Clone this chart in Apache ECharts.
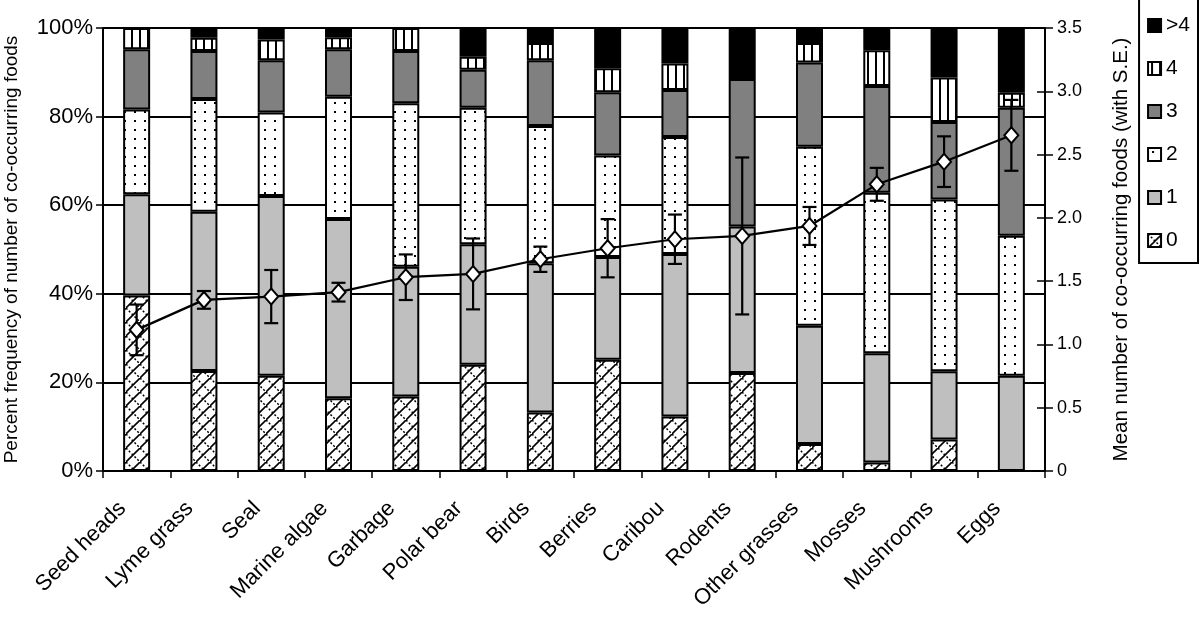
<!DOCTYPE html>
<html>
<head>
<meta charset="utf-8">
<script src="https://cdn.jsdelivr.net/npm/echarts@6/dist/echarts.min.js"></script>
<style>html,body{margin:0;padding:0;background:#fff;}#c{width:1200px;height:626px;}</style>
</head>
<body>
<div id="c"></div>
<script>
// ---- data ----
var categories = ['Seed heads','Lyme grass','Seal','Marine algae','Garbage','Polar bear','Birds','Berries','Caribou','Rodents','Other grasses','Mosses','Mushrooms','Eggs'];
var pct0   = [39.6, 22.6, 21.5, 16.4, 16.8, 24.0, 13.2, 25.1, 12.3, 22.1, 6.1, 1.9, 7.1, 0];
var pct1   = [22.9, 35.9, 40.6, 40.5, 29.3, 27.2, 33.7, 23.2, 36.7, 33.1, 26.7, 24.7, 15.4, 21.5];
var pct2   = [19.1, 25.5, 18.8, 27.6, 36.9, 30.8, 31.0, 22.9, 26.4, 0, 40.4, 36.2, 38.8, 31.6];
var pct3   = [13.6, 10.8, 11.8, 10.7, 11.8, 8.6, 14.8, 14.3, 10.6, 33.3, 19.0, 24.1, 17.5, 28.9];
var pct4   = [4.8, 3.0, 4.7, 2.7, 5.2, 2.9, 3.9, 5.4, 6.0, 0, 4.4, 8.1, 10.0, 3.4];
var pctGt4 = [0, 2.2, 2.6, 2.1, 0, 6.5, 3.4, 9.1, 8.0, 11.5, 3.4, 5.0, 11.2, 14.6];
var meanCo = [1.115, 1.352, 1.378, 1.413, 1.531, 1.557, 1.673, 1.760, 1.831, 1.857, 1.936, 2.265, 2.444, 2.652];
var seCo   = [0.20, 0.07, 0.21, 0.074, 0.18, 0.28, 0.10, 0.23, 0.195, 0.62, 0.15, 0.13, 0.20, 0.28];
var leftTicks  = [0, 20, 40, 60, 80, 100];
var rightTicks = [0, 0.5, 1.0, 1.5, 2.0, 2.5, 3.0, 3.5];

// ---- patterns ----
function tile(w, h, draw) {
  var c = document.createElement('canvas'); c.width = w; c.height = h;
  var g = c.getContext('2d'); g.fillStyle = '#fff'; g.fillRect(0, 0, w, h);
  draw(g); return c;
}
var hatchTile = tile(14, 14, function (g) {
  g.strokeStyle = '#000'; g.lineWidth = 1.6;
  g.beginPath(); g.moveTo(-1, 15); g.lineTo(15, -1); g.stroke();
  g.setLineDash([2, 2]); g.lineWidth = 1.5;
  g.beginPath(); g.moveTo(0, 0); g.lineTo(14, 14); g.stroke();
});
var dotTile = tile(10, 9, function (g) { g.fillStyle = '#000'; g.fillRect(4, 3, 2, 2); });
var stripeTile = tile(8, 8, function (g) { g.fillStyle = '#000'; g.fillRect(3, 0, 2, 8); });

var fills = {
  '0': { image: hatchTile, repeat: 'repeat' },
  '1': '#bfbfbf',
  '2': { image: dotTile, repeat: 'repeat' },
  '3': '#808080',
  '4': { image: stripeTile, repeat: 'repeat' },
  '>4': '#000'
};
var segs = [['0', pct0], ['1', pct1], ['2', pct2], ['3', pct3], ['4', pct4], ['>4', pctGt4]];

var FONT = 'Liberation Sans, Arial, sans-serif';
var barSeries = segs.map(function (s) {
  return {
    name: s[0], type: 'bar', stack: 'pct', barWidth: 27, yAxisIndex: 0,
    itemStyle: { color: fills[s[0]], borderColor: '#000', borderWidth: 2 },
    data: s[1].map(function (v) { return v === 0 ? '-' : v; }),
    z: 2
  };
});

var chart = echarts.init(document.getElementById('c'), null, { renderer: 'canvas' });
chart.setOption({
  animation: false,
  backgroundColor: '#fff',
  textStyle: { fontFamily: FONT, color: '#000' },
  grid: { left: 103, right: 155, top: 28, bottom: 155, containLabel: false, outerBoundsMode: 'none' },
  legend: {
    orient: 'vertical', right: 2, top: -2,
    data: ['>4', '4', '3', '2', '1', '0'],
    itemWidth: 13, itemHeight: 13, itemGap: 22,
    padding: [17, 8, 12, 8],
    borderColor: '#000', borderWidth: 2,
    textStyle: { fontSize: 21, fontFamily: FONT, color: '#000' },
    icon: 'rect',
    itemStyle: { borderColor: '#000', borderWidth: 2 },
    selectedMode: false
  },
  xAxis: {
    type: 'category', data: categories,
    axisLine: { lineStyle: { color: '#000', width: 2 } },
    axisTick: { show: true, length: 7, lineStyle: { color: '#000', width: 1.5 } },
    axisLabel: { rotate: 45, fontSize: 22, color: '#000', margin: 20, padding: [0, 20, 0, 0], interval: 0, fontFamily: FONT },
    splitLine: { show: false }
  },
  yAxis: [
    {
      type: 'value', min: leftTicks[0], max: leftTicks[leftTicks.length - 1], interval: 20,
      position: 'left',
      name: 'Percent frequency of number of co-occurring foods', nameLocation: 'middle', nameGap: 82,
      nameTextStyle: { fontSize: 19, color: '#000', fontFamily: FONT },
      axisLine: { show: true, lineStyle: { color: '#000', width: 2 } },
      axisTick: { show: true, length: 7, lineStyle: { color: '#000', width: 1.5 } },
      axisLabel: { formatter: '{value}%', fontSize: 22, color: '#000', margin: 10, fontFamily: FONT },
      splitLine: { show: true, lineStyle: { color: '#000', width: 2 } }
    },
    {
      type: 'value', min: rightTicks[0], max: rightTicks[rightTicks.length - 1], interval: 0.5,
      position: 'right',
      name: 'Mean number of co-occurring foods (with S.E.)', nameLocation: 'middle', nameGap: 66,
      nameRotate: 90,
      nameTextStyle: { fontSize: 20.5, color: '#000', fontFamily: FONT },
      axisLine: { show: true, lineStyle: { color: '#000', width: 2 } },
      axisTick: { show: true, length: 8, lineStyle: { color: '#000', width: 1.5 } },
      axisLabel: { formatter: function (v) { return v === 0 ? '0' : v.toFixed(1); }, fontSize: 18, color: '#000', margin: 12, fontFamily: FONT },
      splitLine: { show: false }
    },
    {
      type: 'value', min: rightTicks[0], max: rightTicks[rightTicks.length - 1], interval: 0.5,
      position: 'right',
      axisLine: { show: false },
      axisTick: { show: true, inside: true, length: 8, lineStyle: { color: '#000', width: 1.5 } },
      axisLabel: { show: false },
      splitLine: { show: false }
    }
  ],
  series: barSeries.concat([
    {
      name: 'SE', type: 'custom', yAxisIndex: 1, z: 5,
      data: categories.map(function (c, i) { return [i, meanCo[i], seCo[i]]; }),
      renderItem: function (params, api) {
        var x = api.value(0), m = api.value(1), s = api.value(2);
        var top = api.coord([x, m + s]), bot = api.coord([x, m - s]);
        var hw = 7;
        var st = { stroke: '#000', lineWidth: 2.2 };
        return {
          type: 'group',
          children: [
            { type: 'line', shape: { x1: top[0], y1: top[1], x2: bot[0], y2: bot[1] }, style: st },
            { type: 'line', shape: { x1: top[0] - hw, y1: top[1], x2: top[0] + hw, y2: top[1] }, style: st },
            { type: 'line', shape: { x1: bot[0] - hw, y1: bot[1], x2: bot[0] + hw, y2: bot[1] }, style: st }
          ]
        };
      }
    },
    {
      name: 'Mean', type: 'line', yAxisIndex: 1, z: 6,
      data: meanCo,
      symbol: 'diamond', symbolSize: [14, 16], showAllSymbol: true,
      lineStyle: { color: '#000', width: 2.2 },
      itemStyle: { color: '#fff', borderColor: '#000', borderWidth: 2 }
    }
  ])
});
</script>
</body>
</html>
